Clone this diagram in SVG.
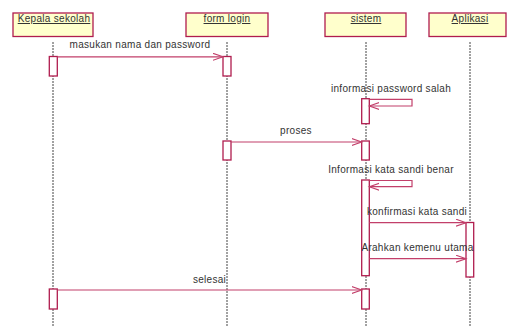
<svg xmlns="http://www.w3.org/2000/svg" width="512" height="327" viewBox="0 0 512 327">
<style>
.hdr{fill:#ffffcc;stroke:#b01c4e;stroke-width:1.3}
.act{fill:#ffffff;stroke:#b01c4e;stroke-width:1.3}
.life{stroke:#444;stroke-width:1;stroke-dasharray:2 1}
.msg{fill:none;stroke:#c23f6a;stroke-width:1.2}
text{font-family:"Liberation Sans",Arial,sans-serif;font-size:10px;fill:#333;letter-spacing:0.3px}
.ht{text-decoration:underline;text-anchor:middle}
.lbl{text-anchor:middle}
</style>
<defs>
<marker id="arr" markerUnits="userSpaceOnUse" markerWidth="12" markerHeight="10" refX="10" refY="4" orient="auto">
<path d="M0,0.5 L10,4 L0,7.5" fill="none" stroke="#c23f6a" stroke-width="1.1"/>
</marker>
</defs>
<g id="lifelines">
<line class="life" x1="53" y1="42" x2="53" y2="327"/>
<line class="life" x1="227" y1="42" x2="227" y2="327"/>
<line class="life" x1="366" y1="42" x2="366" y2="327"/>
<line class="life" x1="470" y1="42" x2="470" y2="327"/>
</g>
<g id="node-kepala">
<rect class="hdr" x="13" y="13" width="80" height="23.5"/>
<text class="ht" x="54" y="22">Kepala sekolah</text>
<rect class="act" x="49.3" y="56.5" width="8" height="19.5"/>
<rect class="act" x="49.3" y="289" width="8" height="20"/>
</g>
<g id="node-formlogin">
<rect class="hdr" x="186" y="13" width="82" height="23.5"/>
<text class="ht" x="227" y="22">form login</text>
<rect class="act" x="223" y="56.5" width="8" height="19.5"/>
<rect class="act" x="223" y="141" width="8" height="19"/>
</g>
<g id="node-sistem">
<rect class="hdr" x="325" y="13" width="81" height="23.5"/>
<text class="ht" x="366" y="22">sistem</text>
<rect class="act" x="361.7" y="98.7" width="7.6" height="25"/>
<rect class="act" x="361.7" y="141" width="7.6" height="19"/>
<rect class="act" x="361.7" y="180" width="7.6" height="95.7"/>
<rect class="act" x="361.7" y="289" width="7.6" height="20"/>
</g>
<g id="node-aplikasi">
<rect class="hdr" x="429" y="13" width="77" height="23.5"/>
<text class="ht" x="470" y="22">Aplikasi</text>
<rect class="act" x="466" y="222.5" width="7.7" height="54.5"/>
</g>
<g id="connectors">
<line class="msg" x1="57.3" y1="56.8" x2="223" y2="56.8" marker-end="url(#arr)"/>
<path class="msg" d="M369.3,99.3 H412 V106 H369.3" marker-end="url(#arr)"/>
<line class="msg" x1="231" y1="142" x2="361.7" y2="142" marker-end="url(#arr)"/>
<path class="msg" d="M369.3,180.5 H412 V186.7 H369.3" marker-end="url(#arr)"/>
<line class="msg" x1="369.3" y1="222.7" x2="466" y2="222.7" marker-end="url(#arr)"/>
<line class="msg" x1="369.3" y1="258.7" x2="466" y2="258.7" marker-end="url(#arr)"/>
<line class="msg" x1="57.3" y1="290" x2="361.7" y2="290" marker-end="url(#arr)"/>
</g>
<g id="labels">
<text class="lbl" x="140" y="48">masukan nama dan password</text>
<text class="lbl" x="391" y="92">informasi password salah</text>
<text class="lbl" x="296" y="134">proses</text>
<text class="lbl" x="391" y="172.5">Informasi kata sandi benar</text>
<text class="lbl" x="417" y="215">konfirmasi kata sandi</text>
<text class="lbl" x="417.5" y="250.5">Arahkan kemenu utama</text>
<text class="lbl" x="209.5" y="282.5">selesai</text>
</g>
</svg>
